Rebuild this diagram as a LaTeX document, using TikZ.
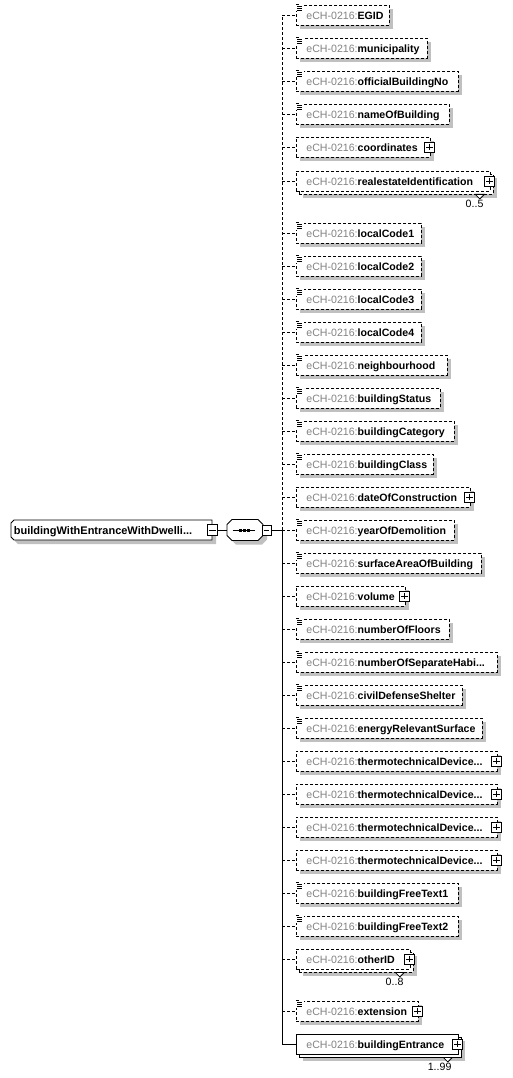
\documentclass[tikz,border=0pt]{standalone}
\usepackage{fontspec}
\setmainfont{Liberation Sans}
\usetikzlibrary{shadows}
\definecolor{shadowgray}{RGB}{192,192,192}
\definecolor{prefixgray}{RGB}{130,130,130}
\newcommand{\cutdots}{{.}..}
\begin{document}
\begin{tikzpicture}[x=1pt,y=-1pt,line width=0.8pt,
  elbox/.style={draw,fill=white,minimum height=20pt,inner sep=0pt,anchor=west},
  shade/.style={drop shadow={shadow xshift=4pt,shadow yshift=-4pt,opacity=1,fill=shadowgray}},
  opt/.style={dash pattern=on 3pt off 2pt},
  sq/.style={draw,solid,fill=white,minimum width=10pt,minimum height=10pt,inner sep=0pt},
  lbl/.style={anchor=base west,inner sep=0pt,font=\fontsize{10.6}{12}\selectfont}]
  \useasboundingbox (0,0) rectangle (512,1078);
  % root element and sequence
  \fill[shadowgray] (18,524) -- (216,524) -- (216,544) -- (18,544) -- (15,541) -- (15,527) -- cycle;
  \draw[fill=white] (14,520) -- (212,520) -- (212,540) -- (14,540) -- (11,537) -- (11,523) -- cycle;
  \node[minimum width=201pt,minimum height=20pt,inner sep=0pt,anchor=west] (root) at (11,530) {};
  \node[lbl,font=\fontsize{11}{12}\selectfont\bfseries] (roottxt) at (13.5,534.5) {buildingWithEntranceWithDwelli...};
  \node[sq,minimum height=11pt] (rminus) at (root.east) {};
  \draw ([xshift=2pt]rminus.west) -- ([xshift=-2pt]rminus.east);
  \fill[shadowgray] (236,523.5) -- (262,523.5) -- (267,528.5) -- (267,539.5) -- (262,544.5)
    -- (236,544.5) -- (231,539.5) -- (231,528.5) -- cycle;
  \draw[fill=white] (232,519.5) -- (258,519.5) -- (263,524.5) -- (263,535.5) -- (258,540.5)
    -- (232,540.5) -- (227,535.5) -- (227,524.5) -- cycle;
  \node[minimum width=36pt,minimum height=21pt,inner sep=0pt] (seq) at (245,530) {};
  \draw ([xshift=6pt]seq.west) -- ([xshift=-8pt]seq.east);
  \foreach \d in {-4,0,4}
    \fill (242.5+\d,528.5) rectangle +(3,3);
  \node[sq,minimum width=9pt] (cminus) at (266.5,530) {};
  \draw ([xshift=2pt]cminus.west) -- ([xshift=-2pt]cminus.east);
  \draw (rminus.east) -- (seq.west);
  \coordinate (hub) at (282,530);
  \draw (cminus.east) -- (hub);

  % single elements: name/y/right/icon/plus
  \foreach \nm/\y/\r/\ic/\pl [count=\i] in {EGID/15/389/1/0, municipality/48/427/1/0,
      officialBuildingNo/81/458/1/0, nameOfBuilding/114/449/1/0, coordinates/147/430/0/1,
      localCode1/233/421/1/0, localCode2/266/421/1/0, localCode3/299/421/1/0,
      localCode4/332/421/1/0, neighbourhood/365/447/1/0, buildingStatus/398/440/1/0,
      buildingCategory/431/454/1/0, buildingClass/464/433/1/0, dateOfConstruction/497/470/0/1,
      yearOfDemolition/530/454/1/0, surfaceAreaOfBuilding/563/481/1/0, volume/596/405/0/1,
      numberOfFloors/629/449/1/0, numberOfSeparateHabi\cutdots/662/497/1/0,
      civilDefenseShelter/695/462/1/0, energyRelevantSurface/728/482/1/0,
      thermotechnicalDevice\cutdots/761/497/0/1, thermotechnicalDevice\cutdots/794/497/0/1,
      thermotechnicalDevice\cutdots/827/497/0/1, thermotechnicalDevice\cutdots/860/497/0/1,
      buildingFreeText1/893/458/1/0, buildingFreeText2/926/458/1/0, extension/1011/418/1/1} {
    \node[elbox,shade,opt,minimum width={(\r-296)*1pt}] (el\i) at (296,\y) {};
    \draw[opt] (hub |- el\i.west) -- (el\i.west);
    \node[lbl] (tx\i) at (306,\y+4.5) {\textcolor{prefixgray}{eCH-0216:}\textbf{\nm}};
    \ifnum\ic=1
      \fill[white] (294.5,\y-11.5) rectangle (303.5,\y-3.5);
      \draw[line width=0.6pt] (296,\y-10.5) -- (299,\y-10.5)
        (297,\y-8.5) -- (302,\y-8.5) (297,\y-6.5) -- (302,\y-6.5) (297,\y-4.5) -- (302,\y-4.5);
    \fi
    \ifnum\pl=1
      \node[sq] (pl\i) at ([xshift=-1pt]el\i.east) {};
      \draw ([xshift=2pt]pl\i.west) -- ([xshift=-2pt]pl\i.east)
        ([yshift=-2pt]pl\i.north) -- ([yshift=2pt]pl\i.south);
    \fi
  }

  % repeated elements: name/y/right/occurrence/line
  \foreach \nm/\y/\r/\occ/\st [count=\i] in {realestateIdentification/181/490/0..5/opt,
      otherID/959/410/0..8/opt, buildingEntrance/1044/458/1..99/solid} {
    \node[elbox,shade,\st,minimum width={(\r-296)*1pt}] (mb\i) at (299,\y+3) {};
    \draw[fill=white] ([xshift=-18.5pt]mb\i.south east) -- ([xshift=-14pt,yshift=-4.5pt]mb\i.south east)
      -- ([xshift=-9.5pt]mb\i.south east) -- cycle;
    \node[elbox,\st,minimum width={(\r-296)*1pt}] (ml\i) at (296,\y) {};
    \draw[\st] (hub |- ml\i.west) -- (ml\i.west);
    \node[lbl] (mt\i) at (306,\y+4.5) {\textcolor{prefixgray}{eCH-0216:}\textbf{\nm}};
    \node[sq] (mp\i) at ([xshift=-1pt]ml\i.east) {};
    \draw ([xshift=2pt]mp\i.west) -- ([xshift=-2pt]mp\i.east)
      ([yshift=-2pt]mp\i.north) -- ([yshift=2pt]mp\i.south);
    \node[anchor=north east,inner sep=0pt,font=\fontsize{10.6}{12}\selectfont] (oc\i)
      at ([xshift=-10pt,yshift=-5pt]mb\i.south east) {\occ};
  }

  % spine
  \draw[opt] (hub) -- (hub |- el1.west);
  \draw (hub) -- (hub |- ml3.west);
\end{tikzpicture}
\end{document}
